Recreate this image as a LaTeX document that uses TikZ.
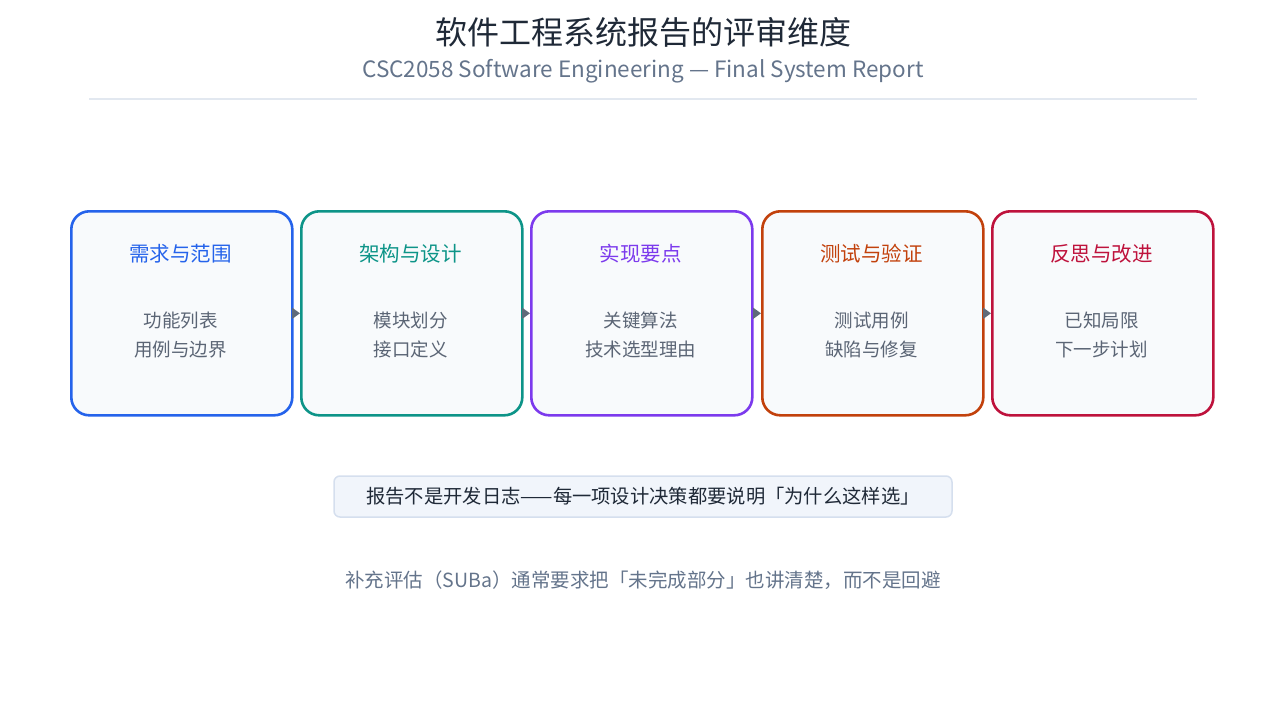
\documentclass[tikz,border=0pt]{standalone}
\usepackage{fontspec}
\setmainfont{Noto Sans CJK SC}
\usetikzlibrary{arrows.meta}
\definecolor{cA}{HTML}{2563EB}\definecolor{cB}{HTML}{0D9488}\definecolor{cC}{HTML}{7C3AED}
\definecolor{cD}{HTML}{C2410C}\definecolor{cE}{HTML}{BE123C}
\definecolor{txt}{HTML}{1F2937}\definecolor{sub}{HTML}{64748B}\definecolor{body}{HTML}{5B6575}
\definecolor{boxbg}{HTML}{F8FAFC}\definecolor{rule}{HTML}{E2E8F0}\definecolor{arr}{HTML}{5F6B7A}
\definecolor{calbg}{HTML}{F1F5FB}\definecolor{caldr}{HTML}{D5DFEE}
\begin{document}
\begin{tikzpicture}[x=1pt,y=-1pt,
 stage/.style={draw=#1,line width=2.6pt,fill=boxbg,rounded corners=18pt,minimum width=221pt,minimum height=204pt,anchor=north west,inner sep=0pt},
 ttl/.style={text=#1,font=\fontsize{20.5}{24}\selectfont},
 bod/.style={text=body,font=\fontsize{18.5}{29}\selectfont,align=center},
 conn/.style={arr,line width=2pt,-{Triangle[length=8pt,width=11pt]}}]
\useasboundingbox (0,0) rectangle (1286,707);
\node[text=txt,font=\fontsize{32}{36}\selectfont] (title) at (643,32) {软件工程系统报告的评审维度};
\node[text=sub,font=\fontsize{22.5}{26}\selectfont] (subtitle) at (643,71) {CSC2058 Software Engineering — Final System Report};
\draw[rule,line width=1.2pt] (89,99) -- (1197,99);
\foreach \i/\x/\c/\t/\a/\b in {1/70/cA/需求与范围/功能列表/用例与边界,2/300/cB/架构与设计/模块划分/接口定义,3/530/cC/实现要点/关键算法/技术选型理由,4/761/cD/测试与验证/测试用例/缺陷与修复,5/991/cE/反思与改进/已知局限/下一步计划}{
 \node[stage=\c] (s\i) at (\x,210) {};
 \node[ttl=\c] (t\i) at (\x+110.5,254) {\t};
 \node[bod] (b\i) at (\x+110.5,335) {\a\\\b};
}
\foreach \i/\j in {1/2,2/3,3/4,4/5}{\draw[conn] (s\i.east) -- (s\j.west);}
\node[draw=caldr,fill=calbg,line width=1.5pt,rounded corners=6pt,minimum width=618pt,minimum height=41pt,inner sep=0pt,text=txt,font=\fontsize{19.3}{22}\selectfont] (note) at (643,496.5) {报告不是开发日志——每一项设计决策都要说明「为什么这样选」};
\node[text=sub,font=\fontsize{19.5}{22}\selectfont] (foot) at (643,580) {补充评估（SUBa）通常要求把「未完成部分」也讲清楚，而不是回避};
\end{tikzpicture}
\end{document}
